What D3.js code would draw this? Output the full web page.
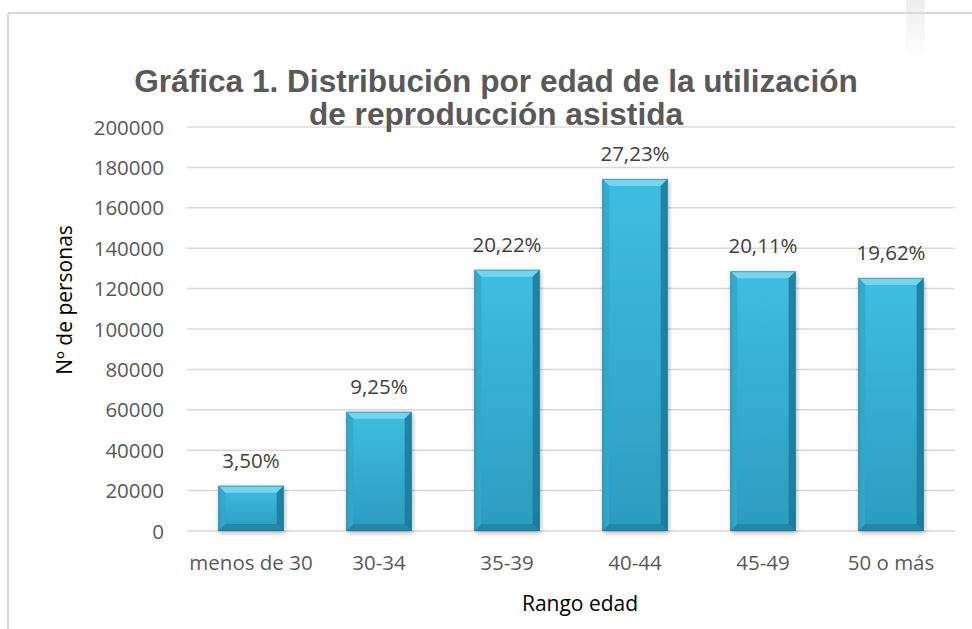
<!DOCTYPE html>
<html>
<head>
<meta charset="utf-8">
<script src="https://cdn.jsdelivr.net/npm/d3@7"></script>
<style>
  html, body { margin: 0; padding: 0; background: #fff; }
  svg { display: block; }
</style>
</head>
<body>
<svg id="chart" width="972" height="629"></svg>
<script>
// ---- data ----
const categories = ["menos de 30", "30-34", "35-39", "40-44", "45-49", "50 o más"];
const values = [22400, 59000, 129300, 174300, 128600, 125300];
const percentLabels = ["3,50%", "9,25%", "20,22%", "27,23%", "20,11%", "19,62%"];
const yTicks = [0, 20000, 40000, 60000, 80000, 100000, 120000, 140000, 160000, 180000, 200000];
const titleLines = ["Gráfica 1. Distribución por edad de la utilización", "de reproducción asistida"];
const yTitle = "Nº de personas";
const xTitle = "Rango edad";

// ---- layout ----
const W = 972, H = 629;
const plot = { left: 187, right: 955, top: 127, bottom: 531 };
const svg = d3.select("#chart");
const defs = svg.append("defs");

// faint watermark band (background artefact)
const wg = defs.append("linearGradient").attr("id", "wmGrad").attr("x1", 0).attr("x2", 0).attr("y1", 0).attr("y2", 1);
wg.append("stop").attr("offset", "0%").attr("stop-color", "#eeeeee");
wg.append("stop").attr("offset", "100%").attr("stop-color", "#ffffff");
svg.append("rect").attr("x", 906).attr("y", 0).attr("width", 19).attr("height", 60).attr("fill", "url(#wmGrad)");

// frame
svg.append("line").attr("x1", 8).attr("x2", W).attr("y1", 13).attr("y2", 13)
  .attr("stroke", "#d9d9d9").attr("stroke-width", 2);
svg.append("line").attr("x1", 8).attr("x2", 8).attr("y1", 13).attr("y2", H)
  .attr("stroke", "#d9d9d9").attr("stroke-width", 2);

// scales
const x = d3.scaleBand().domain(categories).range([plot.left, plot.right])
  .paddingInner(0.49).paddingOuter(0.245);
const y = d3.scaleLinear().domain([0, 200000]).range([plot.bottom, plot.top]);

// gridlines
svg.append("g").selectAll("line").data(yTicks).join("line")
  .attr("x1", plot.left).attr("x2", plot.right)
  .attr("y1", d => y(d)).attr("y2", d => y(d))
  .attr("stroke", "#d9d9d9").attr("stroke-width", 1.5);

// y axis
const yAxis = svg.append("g").attr("transform", `translate(${plot.left - 23},0)`)
  .call(d3.axisLeft(y).tickValues(yTicks).tickSize(0).tickPadding(0).tickFormat(d3.format("d")));
yAxis.select(".domain").remove();
yAxis.selectAll("text").attr("font-family", "Open Sans, sans-serif").attr("font-size", 20.5)
  .attr("fill", "#595959").attr("dy", "0.35em");

// x axis
const xAxis = svg.append("g").attr("transform", `translate(0,${plot.bottom})`)
  .call(d3.axisBottom(x).tickSize(0).tickPadding(0));
xAxis.select(".domain").remove();
xAxis.selectAll("text").attr("font-family", "Open Sans, sans-serif").attr("font-size", 20.5)
  .attr("fill", "#595959").attr("dy", null).attr("y", 39);

// bar gradient & shadow
const grad = defs.append("linearGradient").attr("id", "barGrad").attr("x1", 0).attr("x2", 0).attr("y1", 0).attr("y2", 1);
grad.append("stop").attr("offset", "0%").attr("stop-color", "#3fbde2");
grad.append("stop").attr("offset", "100%").attr("stop-color", "#2b9cc0");
const shadow = defs.append("filter").attr("id", "shadow").attr("x", "-20%").attr("y", "-10%").attr("width", "140%").attr("height", "130%");
shadow.append("feGaussianBlur").attr("in", "SourceAlpha").attr("stdDeviation", 2.5);
shadow.append("feOffset").attr("dx", 1).attr("dy", 2).attr("result", "ob");
shadow.append("feComponentTransfer").append("feFuncA").attr("type", "linear").attr("slope", 0.3);
const mrg = shadow.append("feMerge");
mrg.append("feMergeNode");
mrg.append("feMergeNode").attr("in", "SourceGraphic");

const data = categories.map((c, i) => ({ c, v: values[i], p: percentLabels[i] }));
const bw = x.bandwidth();
const bev = 7;

const bars = svg.append("g").selectAll("g").data(data).join("g").attr("filter", "url(#shadow)");
bars.append("rect")
  .attr("x", d => x(d.c)).attr("y", d => y(d.v))
  .attr("width", bw).attr("height", d => y(0) - y(d.v))
  .attr("fill", "url(#barGrad)");
// bevels
const bevel = (sel, fn, fill, op) => sel.append("polygon").attr("points", d => fn(x(d.c), y(d.v), x(d.c) + bw, y(0)).map(p => p.join(",")).join(" "))
  .attr("fill", fill).attr("opacity", op);
bevel(bars, (l, t, r, b) => [[l, t], [r, t], [r - bev, t + bev], [l + bev, t + bev]], "#7fd9f1", 0.85);
bevel(bars, (l, t, r, b) => [[l, t], [l + bev, t + bev], [l + bev, b - bev], [l, b]], "#2ea8cf", 0.8);
bevel(bars, (l, t, r, b) => [[r, t], [r, b], [r - bev, b - bev], [r - bev, t + bev]], "#1d7594", 0.8);
bevel(bars, (l, t, r, b) => [[l, b], [l + bev, b - bev], [r - bev, b - bev], [r, b]], "#237f9e", 0.75);
bars.append("rect")
  .attr("x", d => x(d.c) + 0.5).attr("y", d => y(d.v) + 0.5)
  .attr("width", bw - 1).attr("height", d => y(0) - y(d.v) - 1)
  .attr("fill", "none").attr("stroke", "#1c6e89").attr("stroke-width", 1).attr("opacity", 0.5);

// value labels
svg.append("g").selectAll("text").data(data).join("text")
  .attr("x", d => x(d.c) + bw / 2).attr("y", d => y(d.v) - 18)
  .attr("text-anchor", "middle").attr("font-family", "Open Sans, sans-serif")
  .attr("font-size", 20.5).attr("fill", "#404040").text(d => d.p);

// title
const tt = svg.append("g");
let fs = 28;
[92, 125].forEach((by, i) => {
  const t = tt.append("text").attr("x", 496).attr("y", by).attr("text-anchor", "middle")
    .attr("font-family", "Liberation Sans Narrow, Liberation Sans, Arial, sans-serif").attr("font-weight", "bold")
    .attr("font-size", fs).attr("fill", "#595959").text(titleLines[i]);
  if (i === 0) {
    const len = t.node().getComputedTextLength();
    fs = Math.min(34, 28 * 724 / len);
    t.attr("font-size", fs);
  }
});

// axis titles
svg.append("text").attr("transform", "translate(72,300) rotate(-90)")
  .attr("text-anchor", "middle").attr("font-family", "Open Sans, sans-serif")
  .attr("font-size", 21).attr("fill", "#000").text(yTitle);
svg.append("text").attr("x", 580).attr("y", 611)
  .attr("text-anchor", "middle").attr("font-family", "Open Sans, sans-serif")
  .attr("font-size", 21).attr("fill", "#000").text(xTitle);
</script>
</body>
</html>
